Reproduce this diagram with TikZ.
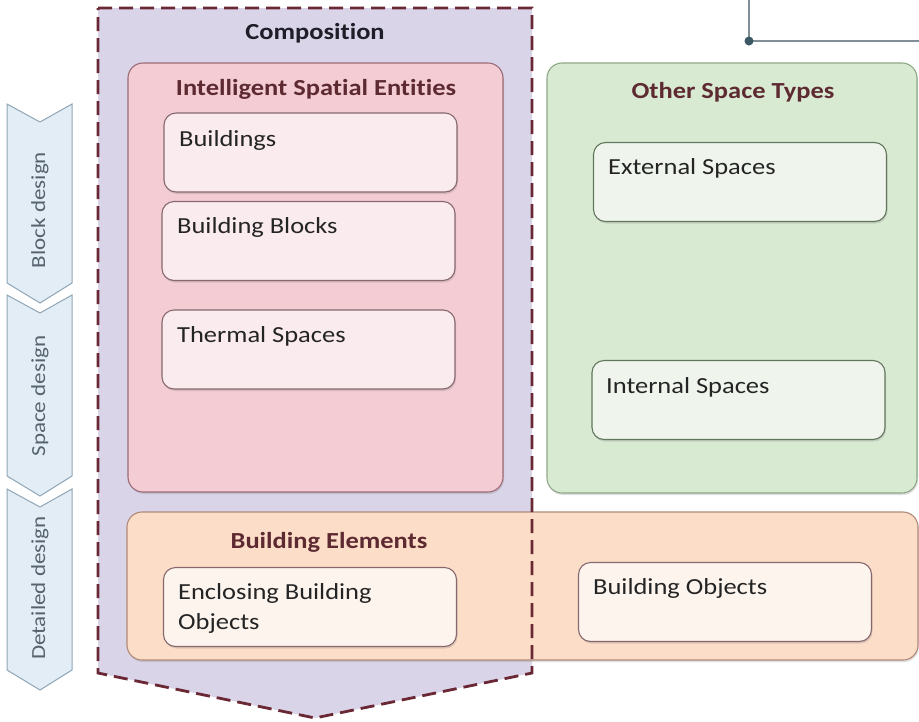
\documentclass[tikz,border=0pt]{standalone}
\usepackage{fontspec}
\setmainfont{Carlito}[FakeStretch=1.15,Ligatures=NoCommon]
\usetikzlibrary{shadows}
\definecolor{compfill}{HTML}{DAD4E9}
\definecolor{compline}{HTML}{6A2734}
\definecolor{pinkfill}{HTML}{F3CCD4}
\definecolor{pinkline}{HTML}{9C6A76}
\definecolor{pinkin}{HTML}{FAEBEE}
\definecolor{greenfill}{HTML}{D9EAD3}
\definecolor{greenline}{HTML}{8DA886}
\definecolor{greenin}{HTML}{EFF5EC}
\definecolor{orfill}{HTML}{FCDDC7}
\definecolor{orline}{HTML}{B08A78}
\definecolor{orin}{HTML}{FDF4EE}
\definecolor{inline}{HTML}{86686E}
\definecolor{chevfill}{HTML}{E2EDF6}
\definecolor{chevline}{HTML}{8FA6B6}
\definecolor{chevtext}{HTML}{56636E}
\definecolor{titlecol}{HTML}{5E2A32}
\definecolor{comptitle}{HTML}{1E1E28}
\definecolor{textcol}{HTML}{242424}
\definecolor{conncol}{HTML}{808F98}
\definecolor{dotcol}{HTML}{3D5966}
\begin{document}
\begin{tikzpicture}[x=1pt,y=-1pt,
  panel/.style={draw, rounded corners=15pt, line width=1.1pt, inner sep=0pt,
    drop shadow={opacity=0.25, shadow xshift=1pt, shadow yshift=-2pt}},
  innerbox/.style={draw=inline, rounded corners=12pt, line width=1.1pt, inner sep=0pt,
    minimum width=293pt, minimum height=79pt,
    drop shadow={opacity=0.25, shadow xshift=1pt, shadow yshift=-2pt}},
  boxtext/.style={anchor=west, inner sep=0pt, text=textcol, font=\fontsize{23}{30}\selectfont, align=left},
  paneltitle/.style={inner sep=0pt, text=titlecol, font=\fontsize{23}{28}\selectfont\bfseries},
  chev/.style={fill=chevfill, draw=chevline, line width=1pt},
  chevlabel/.style={rotate=90, inner sep=0pt, text=chevtext, font=\fontsize{20}{24}\selectfont},
  conn/.style={draw=conncol, line width=1.6pt}
]
\useasboundingbox (0,0) rectangle (919,721);

% top-right connector
\coordinate (c0) at (749,0);
\coordinate (c1) at (749,41);
\coordinate (c2) at (919,41);
\draw[conn] (c0) -- (c1) -- (c2);
\fill[dotcol] (c1) circle (4.5);

% left chevrons
\draw[chev] (7,104) -- (40,122) -- (72,104) -- (72,283) -- (40,303) -- (7,283) -- cycle;
\draw[chev] (7,295) -- (40,313) -- (72,295) -- (72,476) -- (40,496) -- (7,476) -- cycle;
\draw[chev] (7,489) -- (40,507) -- (72,489) -- (72,670) -- (40,690) -- (7,670) -- cycle;
\node[chevlabel] (blk) at (40,210) {Block design};
\node[chevlabel] (spc) at (40,396) {Space design};
\node[chevlabel] (det) at (40,588) {Detailed design};

% composition background
\fill[compfill] (98,8) -- (532,8) -- (532,673) -- (315,718) -- (98,673) -- cycle;
\node[inner sep=0pt, text=comptitle, font=\fontsize{23}{28}\selectfont\bfseries] (comp) at (315,33) {Composition};

% panels
\node[panel, fill=pinkfill, draw=pinkline, minimum width=375pt, minimum height=429pt] (ise) at (315.5,277.5) {};
\node[panel, fill=greenfill, draw=greenline, minimum width=370pt, minimum height=430pt] (ost) at (732,278) {};
\node[panel, fill=orfill, draw=orline, minimum width=791pt, minimum height=148pt] (be) at (522.5,586) {};

\node[paneltitle] (iset) at (316,89) {Intelligent Spatial Entities};
\node[paneltitle] (ostt) at (733,92) {Other Space Types};
\node[paneltitle] (bet) at (329,542) {Building Elements};

% inner boxes
\node[innerbox, fill=pinkin] (bld) at (310.5,152.5) {};
\node[innerbox, fill=pinkin] (blb) at (308.5,241) {};
\node[innerbox, fill=pinkin] (ths) at (308.5,349.5) {};
\node[innerbox, fill=greenin, draw=greenline!70!black] (ext) at (740,182) {};
\node[innerbox, fill=greenin, draw=greenline!70!black] (int) at (738.5,400) {};
\node[innerbox, fill=orin] (enc) at (310,607) {};
\node[innerbox, fill=orin] (bob) at (725,602) {};

\node[boxtext] (bldt) at (179,140) {Buildings};
\node[boxtext] (blbt) at (177,227) {Building Blocks};
\node[boxtext] (thst) at (177,336) {Thermal Spaces};
\node[boxtext] (extt) at (608,168) {External Spaces};
\node[boxtext] (intt) at (606,387) {Internal Spaces};
\node[boxtext] (enct) at (178,608) {Enclosing Building\\Objects};
\node[boxtext] (bobt) at (593,588) {Building Objects};

% composition dashed outline on top
\draw[compline, line width=2.8pt, dash pattern=on 14pt off 7pt, line join=miter]
  (98,8) -- (532,8) -- (532,673) -- (315,718) -- (98,673) -- cycle;
\end{tikzpicture}
\end{document}
